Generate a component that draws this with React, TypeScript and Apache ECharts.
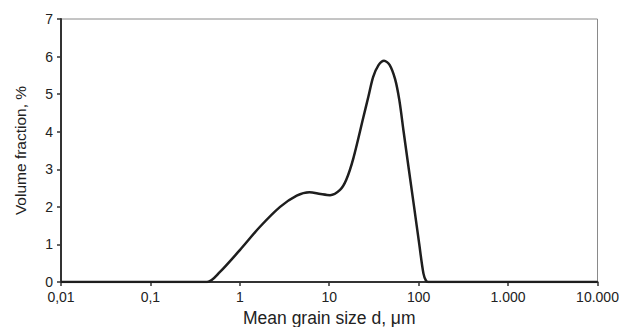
import React, { useEffect, useRef } from "react";
import * as echarts from "echarts";

const grainSize = [0.01, 0.1, 0.43, 0.6, 1.0, 1.68, 2.82, 4.33, 6.0, 8.0, 10.2, 13.2, 15.5, 18.6, 24, 27.5, 31, 35.7, 41, 47.3, 54.5, 60.8, 67.9, 77.6, 88.9, 101.6, 113, 121, 128, 1000, 10000];
const volumeFraction = [0, 0, 0, 0.27, 0.85, 1.47, 2.0, 2.3, 2.39, 2.34, 2.31, 2.45, 2.72, 3.29, 4.37, 4.95, 5.46, 5.78, 5.89, 5.78, 5.4, 4.84, 4.0, 3.0, 2.0, 1.0, 0.23, 0.03, 0, 0, 0];
const xTickLabels: Record<string, string> = {
  "0.01": "0,01",
  "0.1": "0,1",
  "1": "1",
  "10": "10",
  "100": "100",
  "1000": "1.000",
  "10000": "10.000",
};

const FONT = "'Liberation Sans', Arial, sans-serif";

export default function App() {
  const ref = useRef<HTMLDivElement>(null);
  useEffect(() => {
    if (!ref.current) return;
    const chart = echarts.init(ref.current, undefined, { renderer: "svg" });
    const data = grainSize.map((x, i) => [x, volumeFraction[i]]);
    chart.setOption({
      animation: false,
      grid: {
        left: 61,
        right: 21.5,
        top: 19,
        bottom: 45,
        show: true,
        borderColor: "#8a8a8a",
        borderWidth: 1,
        backgroundColor: "transparent",
        containLabel: false,
        outerBoundsMode: "none",
      },
      xAxis: {
        type: "log",
        min: 0.01,
        max: 10000,
        logBase: 10,
        name: "Mean grain size d, \u03bcm",
        nameLocation: "middle",
        nameGap: 25,
        nameTextStyle: { fontFamily: FONT, fontSize: 17.5, color: "#222", lineHeight: 19 },
        axisLine: { show: true, lineStyle: { color: "#333", width: 2 } },
        axisTick: { show: true, length: 4, lineStyle: { color: "#333", width: 1.5 } },
        minorTick: { show: false },
        splitLine: { show: false },
        axisLabel: {
          fontFamily: FONT,
          fontSize: 14,
          lineHeight: 12,
          color: "#222",
          margin: 9,
          formatter: (v: number) => {
            const key = String(Number(v.toPrecision(6)));
            return xTickLabels[key] ?? key;
          },
        },
      },
      yAxis: {
        type: "value",
        min: 0,
        max: 7,
        interval: 1,
        name: "Volume fraction, %",
        nameLocation: "middle",
        nameGap: 33,
        nameTextStyle: { fontFamily: FONT, fontSize: 15.5, color: "#222" },
        axisLine: { show: true, lineStyle: { color: "#333", width: 2 } },
        axisTick: { show: true, length: 4, lineStyle: { color: "#333", width: 1.5 } },
        splitLine: { show: false },
        axisLabel: { fontFamily: FONT, fontSize: 14, lineHeight: 12, color: "#222", margin: 8 },
      },
      series: [
        {
          type: "line",
          data,
          smooth: 0.3,
          showSymbol: false,
          lineStyle: { color: "#1e1e1e", width: 2.5 },
          clip: true,
        },
      ],
    });
    return () => chart.dispose();
  }, []);
  return <div ref={ref} style={{ width: 619, height: 327, position: "absolute", left: 0, top: 0 }} />;
}
